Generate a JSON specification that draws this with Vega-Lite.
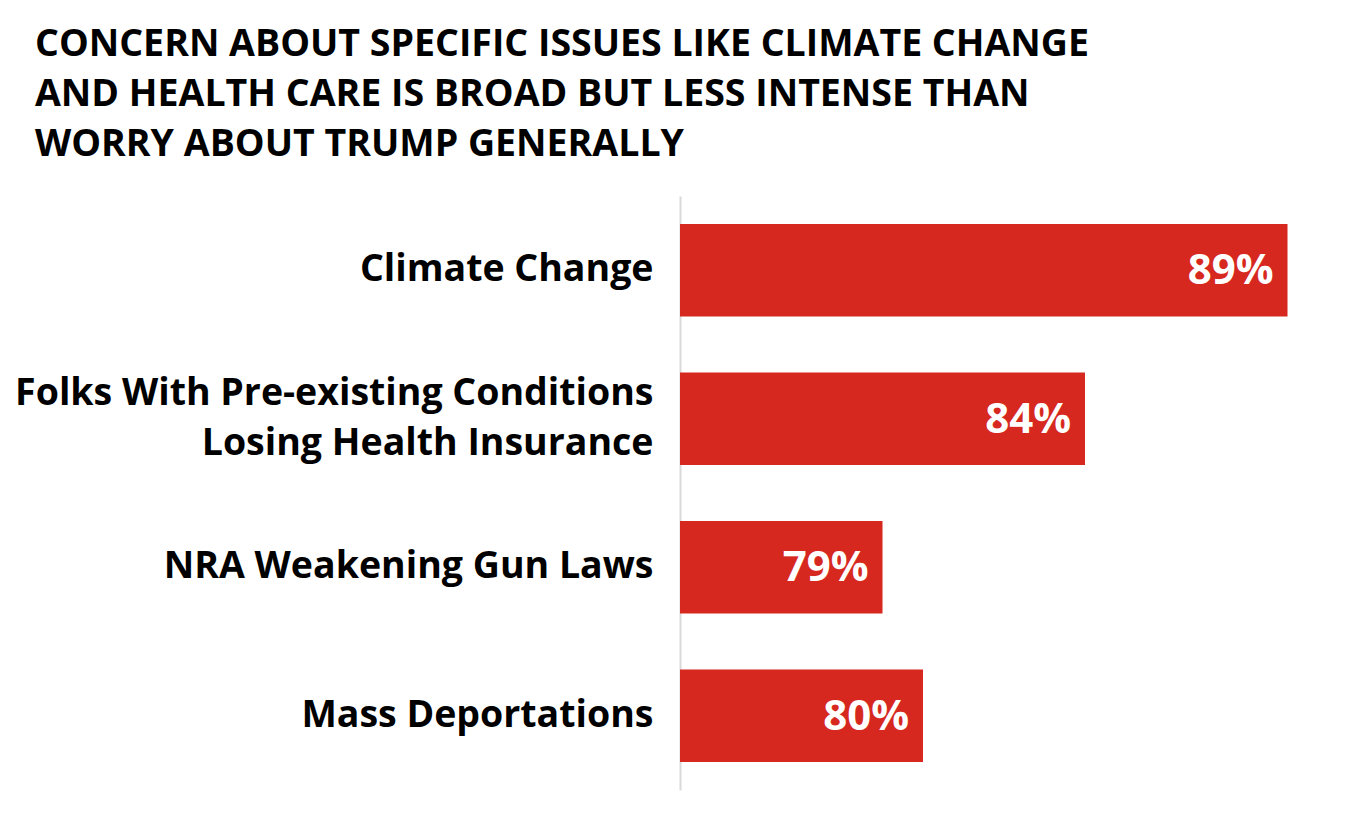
{
  "$schema": "https://vega.github.io/schema/vega-lite/v6.json",
  "autosize": {"type": "none"},
  "width": 648,
  "height": 594,
  "padding": {"left": 680, "top": 196, "right": 24, "bottom": 25},
  "background": "white",
  "config": {"view": {"stroke": null}, "font": "Open Sans"},
  "title": {
    "text": ["CONCERN ABOUT SPECIFIC ISSUES LIKE CLIMATE CHANGE", "AND HEALTH CARE IS BROAD BUT LESS INTENSE THAN", "WORRY ABOUT TRUMP GENERALLY"],
    "anchor": "start",
    "frame": "group",
    "dx": -645,
    "offset": 33,
    "fontSize": 37.5,
    "fontWeight": "bold",
    "font": "Open Sans",
    "color": "black",
    "lineHeight": 50
  },
  "data": {
    "values": [
      {"issue": "Climate Change", "value": 0.89},
      {"issue": "Folks With Pre-existing Conditions|Losing Health Insurance", "value": 0.84},
      {"issue": "NRA Weakening Gun Laws", "value": 0.79},
      {"issue": "Mass Deportations", "value": 0.80}
    ]
  },
  "encoding": {
    "y": {
      "field": "issue",
      "type": "nominal",
      "sort": null,
      "scale": {"paddingInner": 0.376, "paddingOuter": 0.188},
      "axis": {
        "title": null,
        "ticks": false,
        "labelPadding": 27,
        "labelFontSize": 37.5,
        "labelFontWeight": "bold",
        "labelFont": "Open Sans",
        "labelColor": "black",
        "labelLimit": 0,
        "labelLineHeight": 50,
        "labelExpr": "split(datum.label, '|')",
        "labelOffset": {"condition": {"test": "indexof(datum.label, '|') >= 0", "value": -25}, "value": 0},
        "domainColor": "#d9d9d9",
        "domainWidth": 2
      }
    }
  },
  "layer": [
    {
      "mark": {"type": "bar", "color": "#d6281f"},
      "encoding": {
        "x": {"field": "value", "type": "quantitative", "scale": {"domain": [0.74, 0.90], "zero": false, "nice": false}, "axis": null},
        "x2": {"datum": 0.74}
      }
    },
    {
      "mark": {"type": "text", "align": "right", "baseline": "middle", "dx": -14, "dy": 1, "color": "white", "fontSize": 42, "fontWeight": "bold", "font": "Open Sans"},
      "encoding": {
        "x": {"field": "value", "type": "quantitative"},
        "text": {"field": "value", "type": "quantitative", "format": ".0%"}
      }
    }
  ]
}
